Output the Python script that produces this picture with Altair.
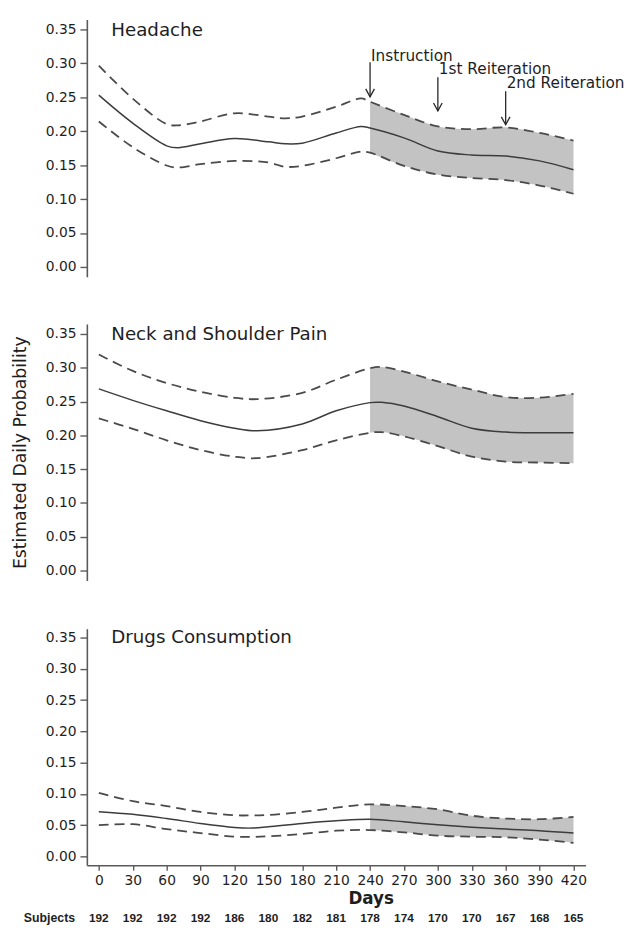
import altair as alt
import pandas as pd

FONT = "DejaVu Sans"
TEXT_COLOR = "#1e1e1e"
AXIS_COLOR = "#5a5a5a"
LINE_COLOR = "#4a4a4a"
SHADE = "#c3c3c3"
CURVE = "catmull-rom"

# ---- data ----
TICK_DAYS = [0, 30, 60, 90, 120, 150, 180, 210, 240, 270, 300, 330, 360, 390, 420]
SUBJECTS = [192, 192, 192, 192, 186, 180, 182, 181, 178, 174, 170, 170, 167, 168, 165]
Y_TICKS = [0.0, 0.05, 0.10, 0.15, 0.20, 0.25, 0.30, 0.35]

# Headache
H_DAYS = [0, 30, 60, 70, 90, 120, 150, 165, 180, 210, 232, 240, 270, 300, 330, 360, 390, 420]
H_MEAN = [0.2531, 0.2119, 0.1785, 0.1757, 0.1815, 0.1892, 0.1844, 0.1815, 0.1824, 0.1975,
          0.2070, 0.2047, 0.1902, 0.1708, 0.1650, 0.1636, 0.1563, 0.1433]
H_UPPER = [0.2967, 0.2480, 0.2105, 0.2086, 0.2144, 0.2264, 0.2216, 0.2190, 0.2216, 0.2360,
           0.2483, 0.2434, 0.2241, 0.2071, 0.2030, 0.2057, 0.1975, 0.1863]
H_LOWER = [0.2144, 0.1765, 0.1495, 0.1466, 0.1514, 0.1563, 0.1539, 0.1476, 0.1490, 0.1602,
           0.1699, 0.1684, 0.1490, 0.1360, 0.1311, 0.1280, 0.1200, 0.1079]

# Neck and Shoulder Pain
N_DAYS = [0, 30, 60, 90, 120, 140, 180, 210, 240, 250, 270, 300, 330, 360, 390, 420]
N_MEAN = [0.2687, 0.2518, 0.2363, 0.2217, 0.2106, 0.2068, 0.2169, 0.2363, 0.2484, 0.2488,
          0.2435, 0.2276, 0.2106, 0.2048, 0.2038, 0.2038]
N_UPPER = [0.3195, 0.2953, 0.2774, 0.2644, 0.2556, 0.2535, 0.2629, 0.2823, 0.2992, 0.3011,
           0.2944, 0.2798, 0.2677, 0.2566, 0.2557, 0.2614]
N_LOWER = [0.2251, 0.2096, 0.1927, 0.1782, 0.1685, 0.1663, 0.1782, 0.1927, 0.2038, 0.2048,
           0.1985, 0.1840, 0.1685, 0.1612, 0.1598, 0.1588]

# Drugs Consumption
D_DAYS = [0, 30, 60, 90, 120, 135, 150, 180, 210, 240, 270, 300, 330, 360, 390, 420]
D_MEAN = [0.0715, 0.0673, 0.0605, 0.0526, 0.0463, 0.0452, 0.0473, 0.0526, 0.0568, 0.0594,
          0.0552, 0.0505, 0.0466, 0.0436, 0.0410, 0.0373]
D_UPPER = [0.1015, 0.0883, 0.0804, 0.0710, 0.0657, 0.0655, 0.0662, 0.0710, 0.0778, 0.0831,
           0.0804, 0.0752, 0.0650, 0.0605, 0.0594, 0.0631]
D_LOWER = [0.0499, 0.0515, 0.0436, 0.0373, 0.0315, 0.0312, 0.0321, 0.0358, 0.0410, 0.0421,
           0.0384, 0.0331, 0.0315, 0.0305, 0.0268, 0.0216]

# intervention events (Headache panel)
EVENT_DAYS = [240, 300, 360]
EVENT_LABELS = ["Instruction", "1st Reiteration", "2nd Reiteration"]
ARROW_TOP = [0.3015, 0.2797, 0.2589]
ARROW_TIP = [0.2507, 0.2299, 0.2096]
LABEL_AT = [0.3040, 0.2846, 0.2637]

X_DOMAIN = [-10.6, 430.7]
PLOT_W = 506


def panel(days, mean, upper, lower, name, height, ydom, ytitle=None, xaxis=False,
          events=False, subjects=False):
    df = pd.DataFrame({"day": days, "mean": mean, "upper": upper, "lower": lower})
    yaxis_kw = dict(values=Y_TICKS, format=".2f", grid=False, tickSize=7, labelPadding=4,
                    labelFont=FONT, labelFontSize=14, labelColor=TEXT_COLOR,
                    domainColor=AXIS_COLOR, domainWidth=1.6, tickColor=AXIS_COLOR,
                    tickWidth=1.4, minExtent=43, maxExtent=43)
    if ytitle:
        yaxis = alt.Axis(title=ytitle, titleFont=FONT, titleFontSize=17.5,
                         titleFontWeight="normal", titleColor=TEXT_COLOR,
                         titlePadding=15, **yaxis_kw)
    else:
        yaxis = alt.Axis(title=None, **yaxis_kw)
    if xaxis:
        xax = alt.Axis(title="Days", values=TICK_DAYS, grid=False, tickSize=5,
                       labelPadding=4, labelFont=FONT, labelFontSize=14,
                       labelColor=TEXT_COLOR, domainColor=AXIS_COLOR, domainWidth=1.6,
                       tickColor=AXIS_COLOR, tickWidth=1.4, titleFont=FONT,
                       titleFontSize=17, titleFontWeight="bold", titleColor=TEXT_COLOR,
                       titlePadding=3, titleX=288)
    else:
        xax = None
    xs = alt.Scale(domain=X_DOMAIN, nice=False, zero=False)
    ys = alt.Scale(domain=ydom, nice=False, zero=False)
    X = alt.X("day:Q", scale=xs, axis=xax)

    base = alt.Chart(df)
    area = base.transform_filter("datum.day >= 240").mark_area(
        color=SHADE, interpolate=CURVE).encode(
        x=X, y=alt.Y("lower:Q", scale=ys, axis=yaxis), y2="upper:Q")
    up = base.mark_line(color=LINE_COLOR, strokeWidth=1.8, strokeDash=[10, 6],
                        interpolate=CURVE).encode(
        x=X, y=alt.Y("upper:Q", scale=ys, axis=yaxis))
    lo = base.mark_line(color=LINE_COLOR, strokeWidth=1.8, strokeDash=[10, 6],
                        interpolate=CURVE).encode(
        x=X, y=alt.Y("lower:Q", scale=ys, axis=yaxis))
    mid = base.mark_line(color="#3c3c3c", strokeWidth=1.5, interpolate=CURVE).encode(
        x=X, y=alt.Y("mean:Q", scale=ys, axis=yaxis))
    ttl = alt.Chart(pd.DataFrame({"t": [name]})).mark_text(
        align="left", baseline="alphabetic", font=FONT, fontSize=18.5,
        color=TEXT_COLOR).encode(
        x=alt.X(datum=11, scale=xs, axis=xax), y=alt.Y(datum=0.341, scale=ys, axis=yaxis),
        text="t:N")
    layers = [area, up, lo, mid, ttl]

    if events:
        ev = pd.DataFrame({"day": EVENT_DAYS, "label": EVENT_LABELS, "top": ARROW_TOP,
                           "tip": ARROW_TIP, "lab": LABEL_AT})
        eb = alt.Chart(ev)
        layers.append(eb.mark_rule(color="#262626", strokeWidth=1.3).encode(
            x=X, y=alt.Y("top:Q", scale=ys, axis=yaxis), y2="tip:Q"))
        layers.append(eb.mark_point(shape="M-0.55,-1L0,0L0.55,-1", size=256, filled=False,
                                    color="#262626", strokeWidth=1.3, opacity=1).encode(
            x=X, y=alt.Y("tip:Q", scale=ys, axis=yaxis)))
        layers.append(eb.mark_text(align="left", baseline="alphabetic", dx=1, font=FONT,
                                   fontSize=15.5, color=TEXT_COLOR).encode(
            x=X, y=alt.Y("lab:Q", scale=ys, axis=yaxis), text="label:N"))

    if subjects:
        sd = pd.DataFrame({"day": TICK_DAYS, "n": SUBJECTS})
        layers.append(alt.Chart(sd).mark_text(
            align="center", baseline="middle", font="Liberation Sans", fontSize=12,
            fontWeight="bold", color=TEXT_COLOR).encode(
            x=X, y=alt.value(height + 54), text="n:Q"))
        layers.append(alt.Chart(pd.DataFrame({"t": ["Subjects"]})).mark_text(
            align="left", baseline="middle", font="Liberation Sans", fontSize=12.5,
            fontWeight="bold", color=TEXT_COLOR).encode(
            x=alt.value(-64), y=alt.value(height + 54), text="t:N"))

    return alt.layer(*layers).properties(width=PLOT_W, height=height)


p1 = panel(H_DAYS, H_MEAN, H_UPPER, H_LOWER, "Headache", 261, [-0.0145, 0.3645],
           events=True)
p2 = panel(N_DAYS, N_MEAN, N_UPPER, N_LOWER, "Neck and Shoulder Pain", 260,
           [-0.0145, 0.3645], ytitle="Estimated Daily Probability")
p3 = panel(D_DAYS, D_MEAN, D_UPPER, D_LOWER, "Drugs Consumption", 240,
           [-0.0142, 0.3642], xaxis=True, subjects=True)

chart = alt.vconcat(p1, p2, p3, spacing=48).properties(
    padding={"left": 3, "top": 5, "right": 0, "bottom": 0},
    background="white"
).configure_view(stroke=None)

chart.save("out.html", embed_options={"renderer": "svg", "actions": False})
